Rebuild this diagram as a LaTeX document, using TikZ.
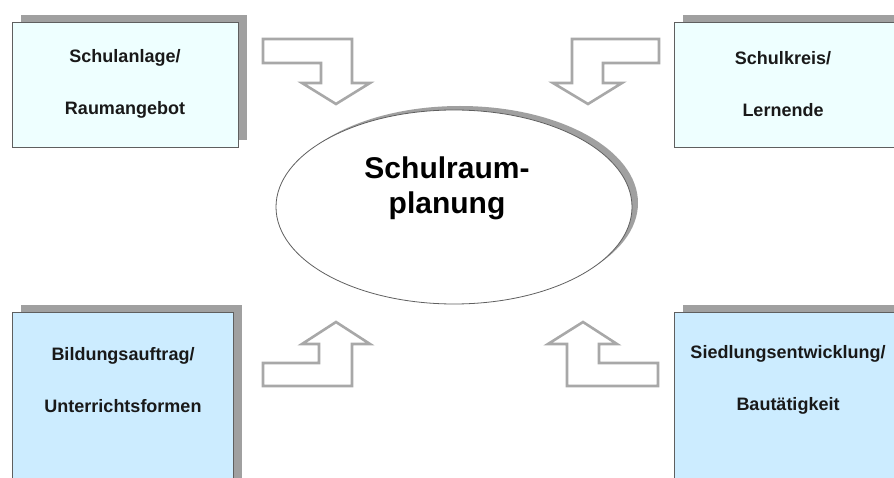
\documentclass[tikz,border=0pt]{standalone}
\usepackage{fontspec}
\setmainfont{Liberation Sans}
\usetikzlibrary{shapes.geometric,shadows}
\definecolor{topfill}{HTML}{EEFFFF}
\definecolor{botfill}{HTML}{CCECFF}
\definecolor{shade}{HTML}{A0A0A0}
\definecolor{arrowgray}{HTML}{A8A8A8}
\definecolor{edgegray}{HTML}{5F5F5F}
\begin{document}
\begin{tikzpicture}[x=1pt,y=-1pt,
  box/.style={draw=edgegray, line width=1.2pt, rectangle, inner sep=0pt,
    anchor=north west,
    general shadow={fill=shade, shadow xshift=8pt, shadow yshift=8pt}},
  boxtext/.style={font=\bfseries\fontsize{18}{52}\selectfont, align=center,
    text=black!90},
  blockarrow/.style={draw=arrowgray, line width=2.6pt, fill=white,
    line join=miter}]
  \useasboundingbox (0,0) rectangle (894,478);
  \clip (0,0) rectangle (894,478);

  % four source boxes
  \node[box, fill=topfill, minimum width=226pt, minimum height=125pt]
    (tl) at (12,22) {};
  \node[box, fill=topfill, minimum width=240pt, minimum height=125pt]
    (tr) at (674,22) {};
  \node[box, fill=botfill, minimum width=221pt, minimum height=190pt]
    (bl) at (12,312) {};
  \node[box, fill=botfill, minimum width=240pt, minimum height=190pt]
    (br) at (674,312) {};

  \node[boxtext] (tltext) at (125,84) {Schulanlage/\\Raumangebot};
  \node[boxtext] (trtext) at (783,84) {Schulkreis/\\Lernende};
  \node[boxtext] (bltext) at (123,380) {Bildungsauftrag/\\Unterrichtsformen};
  \node[boxtext] (brtext) at (788,380) {Siedlungsentwicklung/\\Bautätigkeit};

  % central topic
  \node[ellipse, draw=edgegray, line width=0.8pt, fill=white, inner sep=0pt,
    minimum width=356pt, minimum height=194pt,
    general shadow={fill=shade, shadow xshift=6pt, shadow yshift=4pt}]
    (center) at (454,207) {};
  \node[font=\bfseries\fontsize{30}{35}\selectfont, align=center]
    (centertext) at (447,188) {Schulraum-\\planung};

  % bent block arrows pointing to the centre
  \draw[blockarrow] (263,39) -- (352,39) -- (352,83) -- (370,83) -- (336,104)
    -- (302,83) -- (321,83) -- (321,63) -- (263,63) -- cycle;
  \draw[blockarrow] (659,39) -- (572,39) -- (572,83) -- (553,83) -- (588,104)
    -- (622,83) -- (603,83) -- (603,63) -- (659,63) -- cycle;
  \draw[blockarrow] (336,322) -- (370,344) -- (352,344) -- (352,386)
    -- (263,386) -- (263,363) -- (319,363) -- (319,344) -- (302,344) -- cycle;
  \draw[blockarrow] (583,322) -- (617,344) -- (599,344) -- (599,363)
    -- (658,363) -- (658,386) -- (567,386) -- (567,344) -- (548,344) -- cycle;
\end{tikzpicture}
\end{document}
